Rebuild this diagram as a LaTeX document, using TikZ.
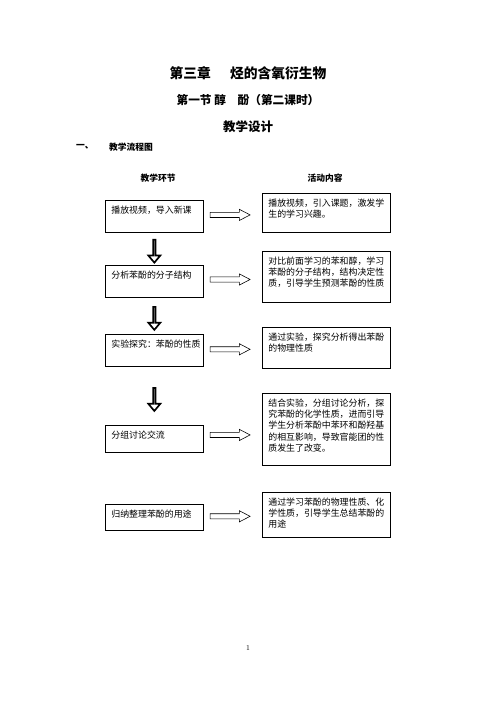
\documentclass[tikz,border=0pt]{standalone}
\usepackage{fontspec}
\newfontfamily\cjk{Noto Sans CJK SC}
\usetikzlibrary{shapes.arrows}
\newdimen\pxu \pxu=1.2pt
\newcommand\boxtext[3]{\parbox[c][#2\pxu][t]{#1\pxu}{\rule{0pt}{13\pxu}#3}}
\tikzset{
  head/.style={inner sep=0pt, font=\cjk\bfseries\fontsize{10.5pt}{12pt}\selectfont},
  stage/.style={draw, line width=0.8pt, anchor=north west, inner xsep=6\pxu, inner ysep=0pt,
    font=\cjk\fontsize{10.7pt}{13.5pt}\selectfont},
  sidearrow/.style={single arrow, draw, line width=0.7pt, fill=white, inner xsep=0pt, inner ysep=2.3\pxu,
    minimum height=40\pxu, single arrow head extend=3\pxu, single arrow tip angle=55},
  downarrow/.style={single arrow, shape border rotate=270, draw, line width=2pt, fill=white, inner sep=0pt,
    minimum height=23\pxu, minimum width=12\pxu, single arrow head extend=3.5\pxu, single arrow tip angle=80}
}
\begin{document}
\begin{tikzpicture}[x=1.2pt, y=-1.2pt]
  \useasboundingbox (0,0) rectangle (496,702);
  \fill[white] (0,0) rectangle (496,702);
  % headings
  \node[font=\cjk\bfseries\fontsize{16.5pt}{18pt}\selectfont] (chap) at (248,73) {第三章\hspace{1.4em}烃的含氧衍生物};
  \node[font=\cjk\bfseries\fontsize{14pt}{16pt}\selectfont] (sect) at (248,100) {第一节 醇\hspace{1em}酚（第二课时）};
  \node[font=\cjk\bfseries\fontsize{15pt}{17pt}\selectfont] (plan) at (248,127) {教学设计};
  \node[head, anchor=west] (num) at (76,147) {一、};
  \node[head, anchor=west] (flow) at (109,147) {教学流程图};
  \node[head] (colL) at (158,178) {教学环节};
  \node[head] (colR) at (325,178) {活动内容};
  % left column
  \node[stage] (l1) at (105,200) {\boxtext{86}{32}{播放视频，导入新课}};
  \node[stage] (l2) at (105,265) {\boxtext{86}{32}{分析苯酚的分子结构}};
  \node[stage] (l3) at (105,334) {\boxtext{86}{32}{实验探究：苯酚的性质}};
  \node[stage] (l4) at (105,425) {\boxtext{86}{27}{分组讨论交流}};
  \node[stage] (l5) at (105,504) {\boxtext{86}{26}{归纳整理苯酚的用途}};
  % right column
  \node[stage] (r1) at (262,193) {\boxtext{116}{39}{播放视频，引入课题，激发学\\生的学习兴趣。}};
  \node[stage] (r2) at (262,251) {\boxtext{116}{51}{对比前面学习的苯和醇，学习\\苯酚的分子结构，结构决定性\\质，引导学生预测苯酚的性质}};
  \node[stage] (r3) at (262,327) {\boxtext{116}{41}{通过实验，探究分析得出苯酚\\的物理性质}};
  \node[stage] (r4) at (262,393) {\boxtext{116}{72}{结合实验，分组讨论分析，探\\究苯酚的化学性质，进而引导\\学生分析苯酚中苯环和酚羟基\\的相互影响，导致官能团的性\\质发生了改变。}};
  \node[stage] (r5) at (262,492) {\boxtext{116}{45}{通过学习苯酚的物理性质、化\\学性质，引导学生总结苯酚的\\用途}};
  % arrows
  \foreach \i/\j in {1/2,2/3,3/4}
    \path (l\i.south) -- (l\j.north) node[pos=0.55, downarrow] (d\i) {};
  \foreach \i in {1,...,5}
    \path (l\i.east) -- (r\i.west) node[pos=0.41, sidearrow] (s\i) {};
  % page number
  \node[font=\fontsize{9pt}{10pt}\selectfont] (page) at (248,648) {1};
\end{tikzpicture}
\end{document}
